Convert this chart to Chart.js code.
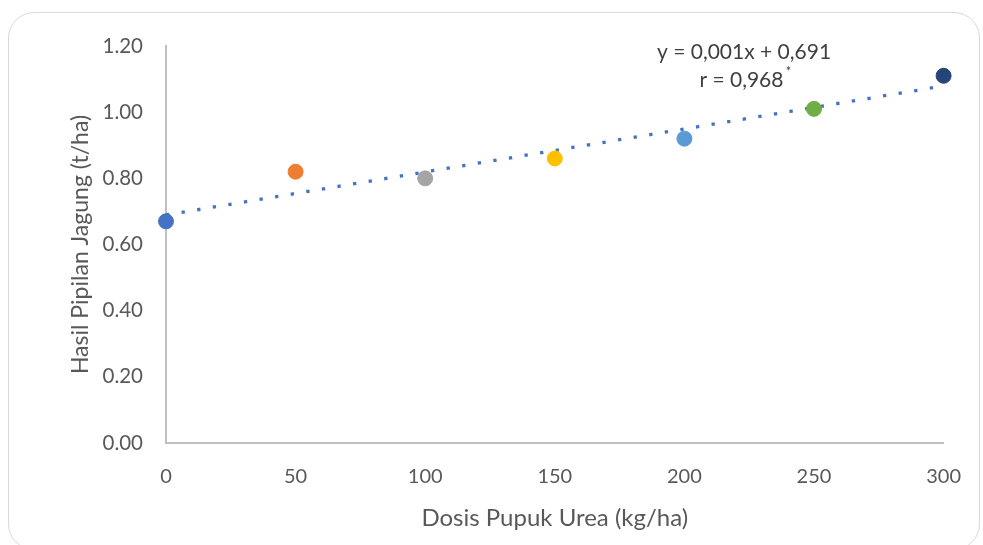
<!DOCTYPE html>
<html>
<head>
<meta charset="utf-8">
<script src="https://cdn.jsdelivr.net/npm/chart.js@4"></script>
<style>
  body { margin: 0; background: #fff; }
  #wrap { position: relative; width: 983px; height: 545px; overflow: hidden; }
  #frame {
    position: absolute; left: 8px; top: 12px; width: 972px; height: 538px;
    border: 1.5px solid #d9d9d9; border-radius: 26px; box-sizing: border-box;
  }
  canvas { position: absolute; left: 0; top: 0; }
</style>
</head>
<body>
<div id="wrap">
  <div id="frame"></div>
  <canvas id="yieldChart" width="983" height="545"></canvas>
</div>
<script>
// dosis pupuk urea (kg/ha) vs hasil pipilan jagung (t/ha)
const doses = [0, 50, 100, 150, 200, 250, 300];
const yields = [0.67, 0.82, 0.80, 0.86, 0.92, 1.01, 1.11];
const pointColors = ['#4472C4', '#ED7D31', '#A5A5A5', '#FFC000', '#5B9BD5', '#70AD47', '#264478'];
const equationText = 'y = 0,001x + 0,691';
const rText = 'r = 0,968';

// linear trendline (least squares) from the points
const n = doses.length;
const mx = doses.reduce((a, b) => a + b, 0) / n;
const my = yields.reduce((a, b) => a + b, 0) / n;
let sxy = 0, sxx = 0;
doses.forEach((x, i) => {
    sxy += (x - mx) * (yields[i] - my);
    sxx += (x - mx) * (x - mx);
});
const slope = sxy / sxx;
const intercept = my - slope * mx;
const xMin = doses[0], xMax = doses[doses.length - 1];

const FONT = 'Lato, "Open Sans", sans-serif';

const equationLabel = {
    id: 'equationLabel',
    afterDatasetsDraw(chart) {
        const ctx = chart.ctx;
        const xs = chart.scales.x, ys = chart.scales.y;
        ctx.save();
        ctx.fillStyle = '#404040';
        ctx.font = '21px ' + FONT;
        ctx.textAlign = 'center';
        ctx.textBaseline = 'middle';
        ctx.fillText(equationText, xs.getPixelForValue(223), ys.getPixelForValue(1.182));
        const ry = ys.getPixelForValue(1.098);
        const rx = xs.getPixelForValue(222);
        ctx.fillText(rText, rx, ry);
        const w = ctx.measureText(rText).width;
        ctx.font = '13px ' + FONT;
        ctx.fillText('*', rx + w / 2 + 5, ry - 8);
        ctx.restore();
    }
};

new Chart(document.getElementById('yieldChart'), {
    type: 'scatter',
    data: {
        datasets: [
            {
                label: 'Trendline',
                type: 'line',
                data: [
                    { x: xMin, y: intercept + slope * xMin },
                    { x: xMax, y: intercept + slope * xMax }
                ],
                borderColor: '#4472C4',
                borderWidth: 3.3,
                borderDash: [3.3, 12.5],
                pointRadius: 0,
                fill: false,
                clip: false,
                order: 2
            },
            {
                label: 'Hasil',
                data: doses.map((x, i) => ({ x: x, y: yields[i] })),
                backgroundColor: pointColors,
                borderColor: pointColors,
                pointRadius: 7.5,
                pointHoverRadius: 7.5,
                clip: false,
                order: 1
            }
        ]
    },
    options: {
        responsive: false,
        animation: false,
        layout: { padding: { left: 0, right: 38, top: 46, bottom: 0 } },
        plugins: { legend: { display: false }, tooltip: { enabled: false } },
        scales: {
            x: {
                type: 'linear',
                min: 0, max: 300,
                afterFit: s => { s.height = 102; },
                ticks: { stepSize: 50, color: '#595959', font: { family: FONT, size: 20 }, padding: 22 },
                grid: { display: false, drawTicks: false },
                border: { color: '#bfbfbf', width: 2 },
                title: {
                    display: true, text: 'Dosis Pupuk Urea (kg/ha)', color: '#595959',
                    font: { family: FONT, size: 24 }, padding: { top: 0, bottom: 12 }
                }
            },
            y: {
                min: 0, max: 1.2,
                afterFit: s => { s.width = 166; },
                ticks: {
                    stepSize: 0.2, color: '#595959', font: { family: FONT, size: 20.5 }, padding: 23,
                    callback: v => v.toFixed(2)
                },
                grid: { display: false, drawTicks: false },
                border: { color: '#bfbfbf', width: 2 },
                title: {
                    display: true, text: 'Hasil Pipilan Jagung (t/ha)', color: '#595959',
                    font: { family: FONT, size: 23 }, padding: { top: 67, bottom: 0 }
                }
            }
        }
    },
    plugins: [equationLabel]
});
</script>
</body>
</html>
